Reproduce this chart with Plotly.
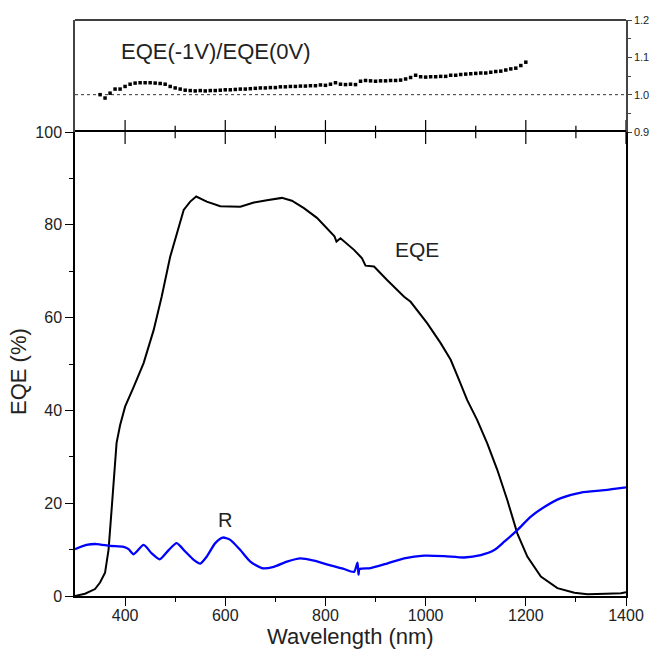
import plotly.graph_objects as go

W, H = 649, 652

# External quantum efficiency (%) at 0 V
wl_eqe = [300, 320, 340, 350, 360, 367, 373, 379, 383, 390, 400, 417, 437, 457, 473,
          490, 503, 517, 530, 542, 563, 590, 630, 657, 683, 713, 733, 757, 783, 810,
          818, 822, 830, 857, 873, 880, 897, 923, 957, 970, 1003, 1030, 1050, 1065,
          1083, 1103, 1123, 1143, 1163, 1183, 1203, 1230, 1263, 1297, 1323, 1360,
          1390, 1400]
eqe = [0.0, 0.5, 1.5, 2.9, 5.0, 10.0, 18.5, 27.9, 33.0, 36.8, 40.8, 45.0, 50.2, 57.3,
       64.5, 73.1, 78.2, 83.2, 85.0, 86.1, 85.0, 84.0, 83.9, 84.8, 85.3, 85.8, 85.2,
       83.6, 81.5, 78.5, 77.5, 76.4, 77.1, 74.6, 72.8, 71.2, 71.0, 68.1, 64.5, 63.4,
       58.8, 54.5, 50.9, 47.0, 42.2, 37.9, 32.9, 27.2, 20.7, 13.5, 8.5, 4.2, 1.7, 0.7,
       0.4, 0.5, 0.6, 0.8]

# Reflectance (%)
wl_r = [300, 323, 343, 370, 397, 407, 417, 437, 453, 469, 487, 503, 520, 537, 550,
        563, 580, 595, 610, 630, 650, 673, 697, 723, 750, 777, 810, 835, 857, 864,
        866, 868, 890, 923, 957, 997, 1037, 1077, 1110, 1137, 1157, 1183, 1210, 1237,
        1270, 1310, 1357, 1400]
refl = [10.1, 11.0, 11.2, 10.8, 10.6, 10.1, 9.0, 11.0, 9.2, 7.9, 9.9, 11.4, 9.6, 7.8,
        7.0, 8.5, 11.4, 12.6, 12.1, 9.9, 7.4, 6.0, 6.3, 7.4, 8.1, 7.6, 6.6, 5.9, 5.2,
        7.2, 4.6, 5.8, 6.0, 7.0, 8.1, 8.7, 8.6, 8.3, 8.8, 9.9, 11.7, 14.2, 17.1, 19.2,
        21.1, 22.3, 22.8, 23.4]

# EQE(-1V)/EQE(0V) ratio
wl_ratio = list(range(350, 1201, 10))
ratio = [1.000, 0.991, 1.004, 1.015, 1.015, 1.022, 1.028, 1.031, 1.032, 1.032,
         1.032, 1.031, 1.030, 1.028, 1.022, 1.018, 1.015, 1.012, 1.011, 1.010,
         1.011, 1.010, 1.011, 1.011, 1.012, 1.013, 1.013, 1.014, 1.015, 1.015,
         1.016, 1.017, 1.018, 1.018, 1.019, 1.019, 1.021, 1.021, 1.022, 1.022,
         1.023, 1.023, 1.024, 1.024, 1.026, 1.025, 1.028, 1.032, 1.028, 1.027,
         1.028, 1.027, 1.036, 1.038, 1.037, 1.036, 1.037, 1.037, 1.038, 1.038,
         1.039, 1.042, 1.046, 1.052, 1.048, 1.047, 1.048, 1.048, 1.049, 1.049,
         1.052, 1.052, 1.054, 1.055, 1.056, 1.057, 1.058, 1.058, 1.060, 1.062,
         1.063, 1.066, 1.069, 1.071, 1.078, 1.087]

ref_x = [300, 1400]
ref_y = [1.0, 1.0]

x_range = [300, 1400]
x_ticks = [400, 600, 800, 1000, 1200, 1400]
x_minor = [500, 700, 900, 1100, 1300]
y_ticks = [0, 20, 40, 60, 80, 100]
r_range = [0.9, 1.2]
r_ticks = [0.9, 1.0, 1.1, 1.2]

FONT = "Liberation Sans, Arial, sans-serif"
TXT = "#222222"


def px_x(p):
    return p / W


def px_y(p):
    return 1 - p / H


fig = go.Figure()

fig.add_trace(go.Scatter(x=wl_eqe, y=eqe, mode="lines",
                         line=dict(color="black", width=2), xaxis="x", yaxis="y"))
fig.add_trace(go.Scatter(x=wl_r, y=refl, mode="lines",
                         line=dict(color="#0000ff", width=2.3, shape="spline", smoothing=0.6),
                         xaxis="x", yaxis="y"))
fig.add_trace(go.Scatter(x=ref_x, y=ref_y, mode="lines",
                         line=dict(color="#333333", width=1, dash="dot"),
                         xaxis="x2", yaxis="y2"))
fig.add_trace(go.Scatter(x=wl_ratio, y=ratio, mode="markers",
                         marker=dict(symbol="square", size=3.5, color="black"),
                         xaxis="x2", yaxis="y2"))

# tick marks crossing the shared edge between the two panels
fig.add_trace(go.Scatter(x=x_ticks, y=[r_range[0]] * len(x_ticks), mode="markers",
                         marker=dict(symbol="line-ns", size=17,
                                     line=dict(color="black", width=1.2)),
                         cliponaxis=False, xaxis="x2", yaxis="y2", hoverinfo="skip"))
fig.add_trace(go.Scatter(x=x_minor, y=[r_range[0]] * len(x_minor), mode="markers",
                         marker=dict(symbol="line-ns", size=9,
                                     line=dict(color="black", width=1.2)),
                         cliponaxis=False, xaxis="x2", yaxis="y2", hoverinfo="skip"))

xdom = [px_x(75), px_x(626)]

fig.update_layout(
    width=W, height=H,
    margin=dict(l=0, r=0, t=0, b=0, pad=0, autoexpand=False),
    paper_bgcolor="white", plot_bgcolor="white",
    showlegend=False,
    font=dict(family=FONT, color=TXT),
    # bottom panel (its top edge is the shared divider)
    xaxis=dict(range=x_range, domain=xdom, anchor="y", showline=True,
               linecolor="black", linewidth=1.5, mirror=True, showgrid=False,
               zeroline=False, automargin=False, tickvals=x_ticks,
               ticks="outside", ticklen=8, tickwidth=1.2, tickcolor="black",
               ticklabelstandoff=-4,
               tickfont=dict(size=16, color=TXT, family=FONT),
               minor=dict(tickvals=x_minor, ticks="outside", ticklen=4,
                          tickcolor="black", tickwidth=1.2)),
    yaxis=dict(range=[0, 100], domain=[px_y(596), px_y(132)], anchor="x",
               tickvals=y_ticks, ticks="outside", ticklen=8, tickwidth=1.2,
               tickcolor="black", showline=True, linecolor="black", linewidth=1.5,
               mirror=True, showgrid=False, zeroline=False, automargin=False,
               tickfont=dict(size=16, color=TXT, family=FONT),
               minor=dict(dtick=10, ticks="outside", ticklen=4,
                          tickcolor="black", tickwidth=1.2)),
    # top panel
    xaxis2=dict(range=x_range, domain=xdom, anchor="y2", showline=False,
                showgrid=False, zeroline=False, automargin=False, ticks="",
                showticklabels=False),
    yaxis2=dict(range=r_range, domain=[px_y(132), px_y(20)], anchor="x2",
                side="right", tickvals=r_ticks, tickformat=".1f", ticks="outside",
                ticklen=4, tickwidth=1.2, tickcolor="#444444", showline=True,
                linecolor="#444444", linewidth=1.5, mirror=True, showgrid=False,
                zeroline=False, automargin=False,
                tickfont=dict(size=11, color=TXT, family=FONT),
                minor=dict(dtick=0.05, tick0=0.9, ticks="outside", ticklen=3,
                           tickcolor="#444444", tickwidth=1.2)),
    shapes=[dict(type="line", xref="x2 domain", yref="y2 domain",
                 x0=0, x1=1, y0=1, y1=1, line=dict(color="black", width=1.5))],
)

fig.add_annotation(text="EQE(-1V)/EQE(0V)", x=580, y=1.115, xref="x2", yref="y2",
                   xanchor="center", yanchor="middle", showarrow=False,
                   font=dict(size=22, color=TXT, family=FONT))
fig.add_annotation(text="EQE", x=982, y=74.6, xref="x", yref="y",
                   xanchor="center", yanchor="middle", showarrow=False,
                   font=dict(size=21, color=TXT, family=FONT))
fig.add_annotation(text="R", x=600, y=16.4, xref="x", yref="y",
                   xanchor="center", yanchor="middle", showarrow=False,
                   font=dict(size=20, color=TXT, family=FONT))
fig.add_annotation(text="Wavelength (nm)", x=px_x(350), y=px_y(636),
                   xref="paper", yref="paper", xanchor="center", yanchor="middle",
                   showarrow=False, font=dict(size=22, color=TXT, family=FONT))
fig.add_annotation(text="EQE (%)", x=px_x(18), y=px_y(372), textangle=-90,
                   xref="paper", yref="paper", xanchor="center", yanchor="middle",
                   showarrow=False, font=dict(size=22, color=TXT, family=FONT))

fig.write_html("out.html")
